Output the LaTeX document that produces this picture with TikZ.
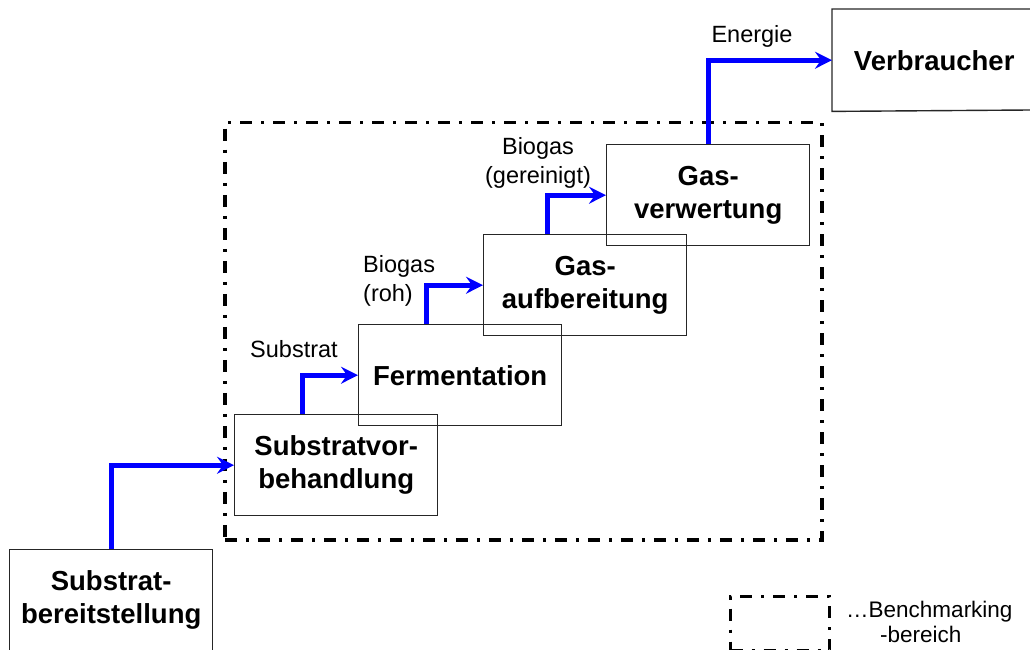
\documentclass[tikz,border=0pt]{standalone}
\usepackage{fontspec}
\setmainfont{Liberation Sans}
\usetikzlibrary{arrows.meta}
\begin{document}
\begin{tikzpicture}[x=1pt,y=-1pt,
  stage/.style={draw=black!85, line width=1.4pt, minimum width=203pt,
    minimum height=101pt, anchor=north west, align=center, inner sep=0pt,
    font=\fontsize{27.5}{33}\selectfont\bfseries},
  flow/.style={draw=blue, line width=5pt, line join=miter,
    -{Stealth[length=17pt,width=17pt,inset=6pt]}},
  lbl/.style={inner sep=0pt, font=\fontsize{23.5}{29}\selectfont},
  region/.style={draw, line width=3.5pt,
    dash pattern=on 12pt off 9pt on 3pt off 9pt, inner sep=0pt,
    anchor=north west}]
\useasboundingbox (0,0) rectangle (1030,650);

% benchmarking region
\node[region, minimum width=597pt, minimum height=417pt] (bench) at (223,121) {};

% process stages
\node[stage] (bsub) at (9,549)   {Substrat-\\bereitstellung};
\node[stage] (vorb) at (234,414) {Substratvor-\\behandlung};
\node[stage] (ferm) at (358,324) {Fermentation};
\node[stage] (aufb) at (483,234) {Gas-\\aufbereitung};
\node[stage] (verw) at (606,144) {Gas-\\verwertung};
% the consumer box runs off the right edge: only three sides are drawn
\node[stage, draw=none] (verb) at (832,9) {Verbraucher};
\draw[black!85, line width=1.4pt]
  (1030,9) -- (verb.north west) -- (verb.south west) -- (1030,110);

% material and energy flows
\draw[flow] (bsub.north) |- (vorb.west);
\draw[flow] ([xshift=-33.5pt]vorb.north) |- (ferm.west);
\draw[flow] ([xshift=-33.5pt]ferm.north) |- (aufb.west);
\draw[flow] ([xshift=-37.5pt]aufb.north) |- (verw.west);
\draw[flow] (verw.north) |- (verb.west);

% flow labels
\node[lbl, anchor=base] (lsub) at (294,357) {Substrat};
\node[lbl, anchor=north west, align=left] (lroh) at (363,255) {Biogas\\(roh)};
\node[lbl, anchor=north, align=center] (lrein) at (538,137) {Biogas\\(gereinigt)};
\node[lbl, anchor=base] (lene) at (752,43) {Energie};

% legend
\node[region, line width=3pt, minimum width=99pt, minimum height=54pt] (key) at (729,595) {};
\node[lbl, font=\fontsize{22.5}{27}\selectfont, anchor=base west] (key1) at (846,617) {…Benchmarking};
\node[lbl, font=\fontsize{22.5}{27}\selectfont, anchor=base west] (key2) at (880,642) {-bereich};
\end{tikzpicture}
\end{document}
